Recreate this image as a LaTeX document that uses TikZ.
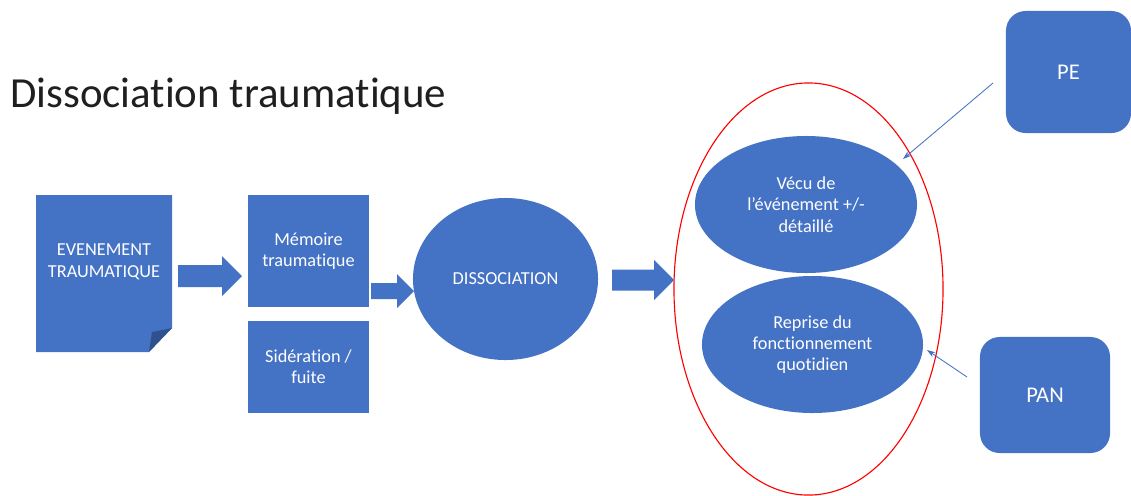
\documentclass[tikz,border=0pt]{standalone}
\usepackage{fontspec}
\setmainfont{Carlito}[Ligatures=NoCommon]
\usetikzlibrary{arrows.meta,shapes.geometric}
\definecolor{boxblue}{HTML}{4472C4}
\definecolor{foldblue}{HTML}{2F528F}
\tikzset{
  boxtext/.style={text=white,align=center,font=\fontsize{13}{15.2}\selectfont},
  squarebox/.style={boxtext,rectangle,fill=boxblue,inner sep=0pt},
  ovalbox/.style={boxtext,ellipse,fill=boxblue,inner sep=0pt},
  sidebox/.style={rectangle,rounded corners=14pt,fill=boxblue,text=white,inner sep=0pt,font=\fontsize{16}{19}\selectfont},
  thinarrow/.style={draw=boxblue,line width=0.6pt,-{Stealth[length=6pt,width=4pt]}}
}
\newcommand{\bigarrow}[6]{%
  \fill[boxblue] (#1,{#4-#5}) -- (#2,{#4-#5}) -- (#2,{#4-#6}) -- (#3,#4)
    -- (#2,{#4+#6}) -- (#2,{#4+#5}) -- (#1,{#4+#5}) -- cycle;}
\begin{document}
\begin{tikzpicture}[x=0.025cm,y=-0.025cm]
\useasboundingbox (0,0) rectangle (1131,495);
\fill[white] (0,0) rectangle (1131,495);
% title
\node[anchor=base west,inner sep=0pt,text=black!88,font=\fontsize{30.5}{36}\selectfont] (title) at (10,107) {Dissociation traumatique};
% evenement (folded corner)
\fill[boxblue] (36,195) -- (172,195) -- (172,328) -- (149,352) -- (36,352) -- cycle;
\fill[foldblue] (149,352) -- (172,328) -- (152,332) -- cycle;
\node[boxtext] (evenement) at (104,262) {EVENEMENT\\TRAUMATIQUE};
% middle column
\node[squarebox,minimum width=3.025cm,minimum height=2.8cm] (memoire) at (308.5,251) {Mémoire\\traumatique};
\node[squarebox,minimum width=3.025cm,minimum height=2.3cm] (sideration) at (308.5,367) {Sidération /\\fuite};
\node[ovalbox,minimum width=4.625cm,minimum height=4.05cm] (dissociation) at (505.5,279) {DISSOCIATION};
% block arrows
\bigarrow{178}{222}{242}{276}{11}{20}
\bigarrow{371}{397}{414}{291}{8}{17}
\bigarrow{612}{654}{674}{280}{10.5}{20}
% right part
\node[ellipse,draw=red,line width=0.8pt,inner sep=0pt,minimum width=6.725cm,minimum height=10.3cm] (groupe) at (808.5,289) {};
\node[ovalbox,minimum width=5.55cm,minimum height=3.425cm] (vecu) at (806,204.5) {Vécu de\\l’événement +/-\\détaillé};
\node[ovalbox,minimum width=5.525cm,minimum height=3.425cm] (reprise) at (812.5,344.5) {Reprise du\\fonctionnement\\quotidien};
\node[sidebox,minimum width=3.125cm,minimum height=3.05cm] (pe) at (1068.5,72) {PE};
\node[sidebox,minimum width=3.25cm,minimum height=2.9cm] (pan) at (1045,395) {PAN};
\coordinate (peStart) at (993,83);
\coordinate (peEnd) at (903,159);
\coordinate (panStart) at (967,377);
\coordinate (panEnd) at (927,350);
\draw[thinarrow] (peStart) -- (peEnd);
\draw[thinarrow] (panStart) -- (panEnd);
\end{tikzpicture}
\end{document}
